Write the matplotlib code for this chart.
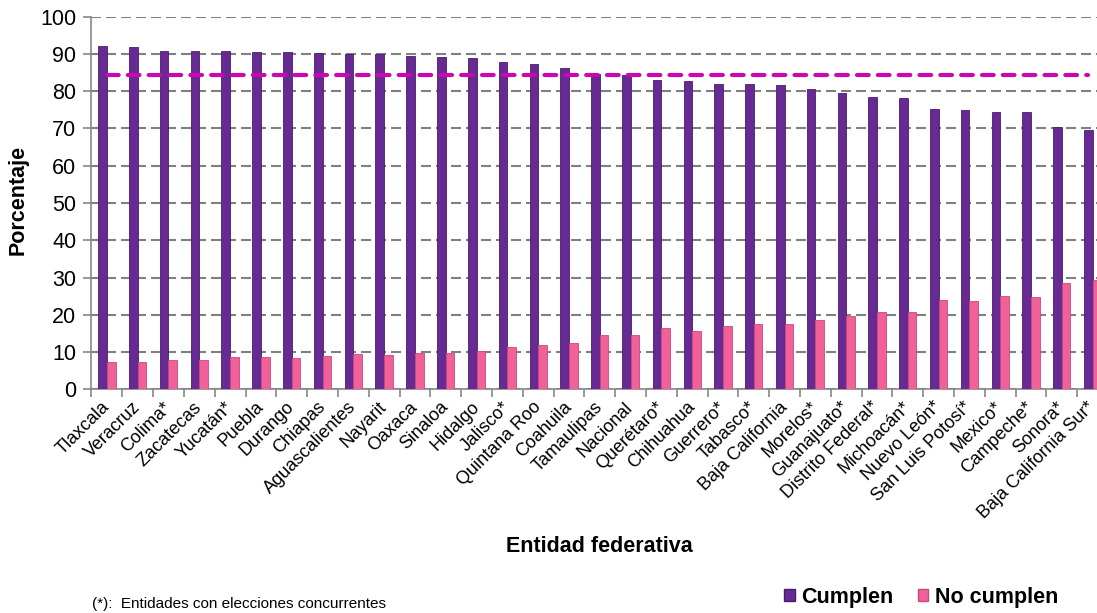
import numpy as np
from matplotlib import pyplot as plt
from matplotlib import rcParams
from matplotlib.patches import Patch
from matplotlib.transforms import ScaledTranslation

rcParams["font.family"] = ["Liberation Sans", "DejaVu Sans"]

entidades = ["Tlaxcala", "Veracruz", "Colima*", "Zacatecas", "Yucatán*", "Puebla",
             "Durango", "Chiapas", "Aguascalientes", "Nayarit", "Oaxaca", "Sinaloa",
             "Hidalgo", "Jalisco*", "Quintana Roo", "Coahuila", "Tamaulipas", "Nacional",
             "Querétaro*", "Chihuahua", "Guerrero*", "Tabasco*", "Baja California",
             "Morelos*", "Guanajuato*", "Distrito Federal*", "Michoacán*", "Nuevo León*",
             "San Luis Potosí*", "Mexico*", "Campeche*", "Sonora*", "Baja California Sur*"]
cumplen = [92.1, 91.8, 90.9, 90.9, 90.9, 90.6, 90.6, 90.3, 89.9, 89.9, 89.5, 89.2,
           88.8, 87.9, 87.3, 86.2, 84.5, 84.3, 83.0, 82.7, 81.9, 81.9, 81.7,
           80.5, 79.4, 78.5, 78.3, 75.1, 74.9, 74.3, 74.3, 70.5, 69.6]
no_cumplen = [7.2, 7.2, 7.9, 8.0, 8.7, 8.7, 8.3, 8.9, 9.5, 9.2, 9.8, 9.8,
              10.3, 11.3, 11.8, 12.3, 14.7, 14.7, 16.5, 15.7, 16.9, 17.5, 17.5,
              18.7, 19.8, 20.7, 20.7, 24.1, 23.6, 25.0, 24.7, 28.6, 29.3]
promedio_nacional = 84.3

PURPLE = "#662A92"
PINK = "#F2609A"
MAGENTA = "#CC06B0"

fig = plt.figure(figsize=(10.97, 6.13), dpi=100)
ax = fig.add_axes([0.0834, 0.3649, 0.9266, 0.6079])

x = np.arange(len(entidades))
w = 0.28
ax.bar(x - w / 2, cumplen, width=w, color=PURPLE, edgecolor="#4a1c6c", linewidth=0.6, zorder=3)
ax.bar(x + w / 2, no_cumplen, width=w, color=PINK, edgecolor="#c84a7c", linewidth=0.6, zorder=3)

# promedio nacional
ax.plot([x[0], x[-1] - 0.15], [promedio_nacional] * 2, color=MAGENTA, lw=3,
        dashes=(2.8, 2.2), dash_capstyle="round", zorder=4)

ax.set_xlim(-0.5, len(entidades) - 0.5)
ax.set_ylim(0, 100)
ax.set_yticks(range(0, 101, 10))
ax.yaxis.grid(True, color="#808080", lw=1.5, dashes=(4.8, 2.4))
ax.set_axisbelow(True)

ax.set_xticks(x)
ax.set_xticklabels(entidades, rotation=45, ha="right", va="center",
                   rotation_mode="anchor", fontsize=13)
shift = ScaledTranslation(-4 / 100, 0, fig.dpi_scale_trans)
for lbl in ax.get_xticklabels():
    lbl.set_transform(lbl.get_transform() + shift)
ax.set_xticks(np.arange(-0.5, len(entidades), 1), minor=True)
ax.tick_params(axis="x", which="major", length=0, pad=11)
ax.tick_params(axis="x", which="minor", length=6, color="#888888", width=1.2)
ax.tick_params(axis="y", length=6, color="#888888", width=1.2, labelsize=15.5, pad=5)

for s in ["top", "right"]:
    ax.spines[s].set_visible(False)
for s in ["left", "bottom"]:
    ax.spines[s].set_color("#888888")
    ax.spines[s].set_linewidth(1.2)

fig.text(18 / 1097, 1 - 200 / 613, "Porcentaje", rotation=90, ha="center", va="center",
         fontsize=15.5, fontweight="bold")
fig.text(599 / 1097, 1 - 546 / 613, "Entidad federativa", ha="center", va="center",
         fontsize=15.5, fontweight="bold")
fig.text(92 / 1097, 1 - 611 / 613, "(*):  Entidades con elecciones concurrentes",
         ha="left", va="bottom", fontsize=11)

handles = [Patch(facecolor=PURPLE, edgecolor="#4a1c6c"), Patch(facecolor=PINK, edgecolor="#c84a7c")]
fig.legend(handles, ["Cumplen", "No cumplen"], loc="center left",
           bbox_to_anchor=(765 / 1097, 1 - 597 / 613), ncol=2, frameon=False,
           handlelength=0.5, handleheight=0.5, handletextpad=0.3, columnspacing=1.1,
           prop={"weight": "bold", "size": 15.5})

fig.savefig("out.png", dpi=100)
